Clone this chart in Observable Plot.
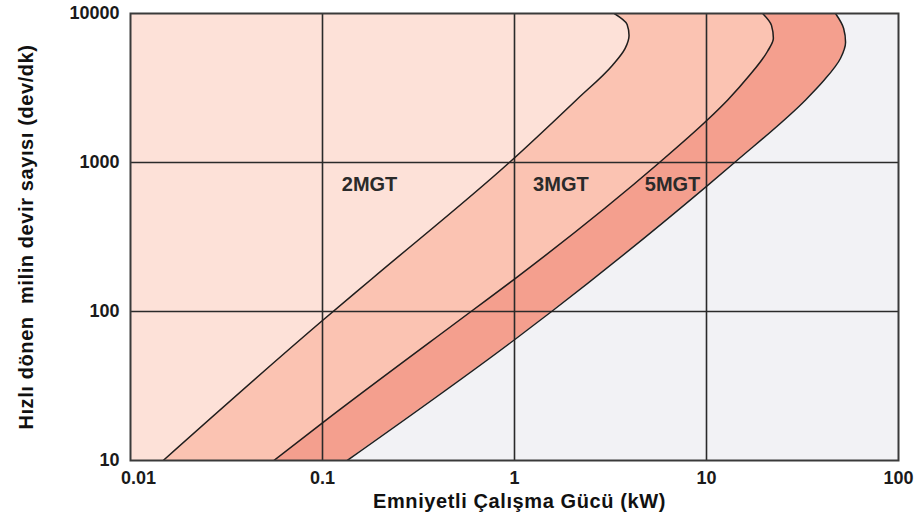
<!DOCTYPE html>
<html>
<head>
<meta charset="utf-8">
<script src="https://cdn.jsdelivr.net/npm/d3@7"></script>
<script src="https://cdn.jsdelivr.net/npm/@observablehq/plot@0.6"></script>
<style>
  html, body { margin: 0; padding: 0; background: #fff; }
</style>
</head>
<body>
<script>
// Axis ticks
const xTicks = [0.01, 0.1, 1, 10, 100];
const yTicks = [10, 100, 1000, 10000];
const gridX = [0.1, 1, 10];
const gridY = [100, 1000];

// Boundary curves (power kW vs speed rpm)
const mgt2Power = [0.0148, 0.1, 0.181, 0.94, 2.10, 3.24, 3.77, 3.95, 3.86, 3.31];
const mgt2Speed = [10, 87, 166, 1000, 2630, 4500, 5840, 7130, 8450, 10000];

const mgt3Power = [0.0558, 0.1, 0.594, 1, 5.69, 10, 12.9, 16.8, 20.8, 22.3, 21.8, 19.6];
const mgt3Speed = [10, 17.9, 100, 165, 1000, 1905, 2630, 3860, 5580, 6810, 8320, 10000];

const mgt5Power = [0.1345, 1, 1.56, 10, 14.0, 32.8, 40.6, 49.9, 53.0, 51.8, 47.0];
const mgt5Speed = [10, 64.6, 100, 692, 1000, 2630, 3520, 5010, 6410, 7940, 10000];

// Region labels
const labelNames = ["2MGT", "3MGT", "5MGT"];
const labelPower = [0.126, 1.25, 4.77];
const labelSpeed = [641, 641, 641];

const xTitle = "Emniyetli Çalışma Gücü (kW)";
const yTitle = "Hızlı dönen\u00a0 milin devir sayısı (dev/dk)";

const toRows = (p, s) => p.map((d, i) => ({power: d, speed: s[i]}));
const c2 = toRows(mgt2Power, mgt2Speed);
const c3 = toRows(mgt3Power, mgt3Speed);
const c5 = toRows(mgt5Power, mgt5Speed);
const labels = labelNames.map((n, i) => ({name: n, power: labelPower[i], speed: labelSpeed[i]}));

const col2 = "#fde1d8", col3 = "#fbc3b2", col5 = "#f49f8e", colBg = "#f2f2f5";
const font = "'Liberation Sans', Arial, Helvetica, sans-serif";
const tickStyle = {tickSize: 0, tickPadding: 11, fontSize: 18, fontWeight: "bold", fill: "#1a1a1a", tickFormat: d => String(d)};
const crv = "monotone-y";

const svg = Plot.plot({
  width: 915,
  height: 522,
  marginLeft: 130,
  marginRight: 17,
  marginTop: 13,
  marginBottom: 62,
  style: {fontFamily: font, background: "#fff"},
  x: {type: "log", domain: [0.01, 100], label: null},
  y: {type: "log", domain: [10, 10000], label: null},
  marks: [
    Plot.frame({fill: colBg, stroke: "none"}),
    Plot.areaX(c5, {y: "speed", x1: 0.01, x2: "power", fill: col5, curve: crv, clip: true}),
    Plot.areaX(c3, {y: "speed", x1: 0.01, x2: "power", fill: col3, curve: crv, clip: true}),
    Plot.areaX(c2, {y: "speed", x1: 0.01, x2: "power", fill: col2, curve: crv, clip: true}),
    Plot.ruleX(gridX, {stroke: "#2a2a2a", strokeWidth: 1.6}),
    Plot.ruleY(gridY, {stroke: "#2a2a2a", strokeWidth: 1.6}),
    Plot.line(c2, {x: "power", y: "speed", curve: crv, stroke: "#1e1e1e", strokeWidth: 1.5, clip: true}),
    Plot.line(c3, {x: "power", y: "speed", curve: crv, stroke: "#1e1e1e", strokeWidth: 1.5, clip: true}),
    Plot.line(c5, {x: "power", y: "speed", curve: crv, stroke: "#1e1e1e", strokeWidth: 1.5, clip: true}),
    Plot.frame({stroke: "#3a3a3a", strokeWidth: 2}),
    Plot.axisY(yTicks, tickStyle),
    Plot.axisX(xTicks.slice(1), tickStyle),
    Plot.axisX(xTicks.slice(0, 1), {...tickStyle, dx: 8}),
    Plot.text(labels, {x: "power", y: "speed", text: "name", textAnchor: "start", lineAnchor: "bottom", fontSize: 20, fontWeight: "bold", fill: "#2a2a2a"}),
    Plot.text([xTitle], {frameAnchor: "bottom", dy: 47, dx: 5, textAnchor: "middle", lineAnchor: "bottom", fontSize: 20, fontWeight: "bold", fill: "#111"}),
    Plot.text([yTitle], {frameAnchor: "left", dx: -98, rotate: -90, textAnchor: "middle", lineAnchor: "bottom", fontSize: 20, fontWeight: "bold", fill: "#111"})
  ]
});
d3.select(svg).selectAll("text")
  .filter(function() { return this.textContent === xTitle || this.textContent === yTitle; })
  .attr("letter-spacing", "0.6")
  .style("letter-spacing", "0.6px");
document.body.appendChild(svg);
</script>
</body>
</html>
